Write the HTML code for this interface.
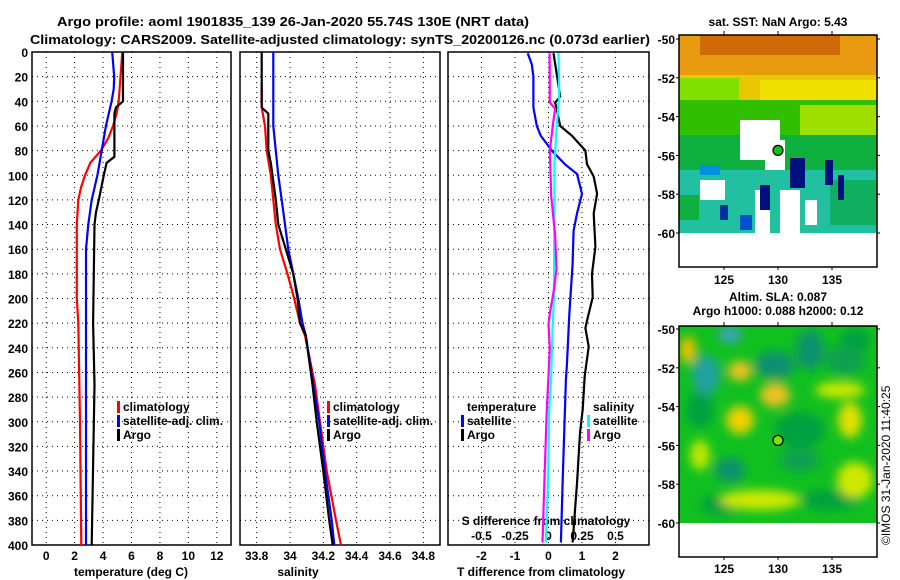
<!DOCTYPE html>
<html><head><meta charset="utf-8"><style>
body{margin:0;background:#fff}
svg{display:block;font-family:"Liberation Sans",sans-serif;font-weight:bold}
text{font-size:12px}
</style></head><body>
<svg id="c" width="900" height="580" viewBox="0 0 900 580">
<defs>
<filter id="bl" x="-50%" y="-50%" width="200%" height="200%"><feGaussianBlur stdDeviation="5"/></filter>
<clipPath id="m1"><rect x="679" y="35" width="198" height="198"/></clipPath>
<clipPath id="m2"><rect x="679" y="326" width="198" height="197"/></clipPath>
</defs>
<text x="57" y="26" textLength="472" lengthAdjust="spacingAndGlyphs" style="font-size:13px">Argo profile: aoml 1901835_139 26-Jan-2020 55.74S 130E (NRT data)</text>
<text x="30" y="44" textLength="620" lengthAdjust="spacingAndGlyphs" style="font-size:13px">Climatology: CARS2009. Satellite-adjusted climatology: synTS_20200126.nc (0.073d earlier)</text>
<text x="778" y="26" text-anchor="middle" style="font-size:12px">sat. SST: NaN Argo: 5.43</text>
<text x="778" y="301" text-anchor="middle">Altim. SLA: 0.087</text>
<text x="778" y="315" text-anchor="middle">Argo h1000: 0.088 h2000: 0.12</text>
<text transform="translate(890,545) rotate(-90)" style="font-weight:normal;font-size:12px">©IMOS 31-Jan-2020 11:40:25</text>

<g id="map1">
<rect x="679" y="35" width="198" height="232" fill="#fff"/>
<g clip-path="url(#m1)">
<rect x="679" y="35" width="198" height="198" fill="#10b070"/>
<rect x="679" y="35" width="198" height="45" fill="#e89a10"/>
<rect x="700" y="35" width="140" height="20" fill="#d06a08"/>
<rect x="679" y="75" width="198" height="30" fill="#e8c800"/>
<rect x="679" y="78" width="60" height="30" fill="#80e000"/>
<rect x="760" y="80" width="117" height="25" fill="#f0e000"/>
<rect x="679" y="100" width="198" height="40" fill="#30c000"/>
<rect x="800" y="105" width="77" height="40" fill="#a0e000"/>
<rect x="679" y="135" width="198" height="40" fill="#10b040"/>
<rect x="679" y="170" width="198" height="63" fill="#20c0a0"/>
<rect x="679" y="195" width="20" height="25" fill="#10b040"/>
<rect x="830" y="180" width="47" height="45" fill="#10b060"/>
<rect x="740" y="120" width="40" height="40" fill="#fff"/>
<rect x="700" y="180" width="25" height="20" fill="#fff"/>
<rect x="765" y="140" width="20" height="30" fill="#fff"/>
<rect x="755" y="190" width="15" height="43" fill="#fff"/>
<rect x="780" y="190" width="20" height="43" fill="#fff"/>
<rect x="805" y="200" width="12" height="25" fill="#fff"/>
<rect x="790" y="158" width="15" height="30" fill="#00107a"/>
<rect x="760" y="185" width="10" height="25" fill="#00107a"/>
<rect x="825" y="160" width="8" height="25" fill="#00107a"/>
<rect x="838" y="175" width="6" height="25" fill="#00107a"/>
<rect x="740" y="215" width="12" height="15" fill="#0050d0"/>
<rect x="720" y="205" width="8" height="15" fill="#0030a0"/>
<rect x="700" y="165" width="20" height="10" fill="#0090e0"/>
</g>
</g>
<g id="map2">
<rect x="679" y="326" width="198" height="231" fill="#fff"/>
<g clip-path="url(#m2)">
<rect x="679" y="326" width="198" height="197" fill="#10c020"/>
<g filter="url(#bl)">
<ellipse cx="800" cy="430" rx="25" ry="18" fill="#00a040"/>
<ellipse cx="700" cy="410" rx="14" ry="18" fill="#00a040"/>
<ellipse cx="830" cy="500" rx="30" ry="10" fill="#00a040"/>
<ellipse cx="720" cy="505" rx="20" ry="10" fill="#00a040"/>
<ellipse cx="855" cy="340" rx="15" ry="12" fill="#00a040"/>
<ellipse cx="706" cy="375" rx="14" ry="20" fill="#20a0a0"/>
<ellipse cx="730" cy="335" rx="12" ry="8" fill="#40a0c0"/>
<ellipse cx="688" cy="350" rx="8" ry="14" fill="#f0c000"/>
<ellipse cx="740" cy="371" rx="12" ry="10" fill="#f0c020"/>
<ellipse cx="775" cy="395" rx="15" ry="12" fill="#f0c020"/>
<ellipse cx="775" cy="365" rx="20" ry="14" fill="#109070"/>
<ellipse cx="810" cy="350" rx="14" ry="20" fill="#109070"/>
<ellipse cx="845" cy="360" rx="20" ry="15" fill="#10a050"/>
<ellipse cx="850" cy="420" rx="12" ry="18" fill="#e0e000"/>
<ellipse cx="740" cy="420" rx="14" ry="14" fill="#f0d000"/>
<ellipse cx="730" cy="470" rx="15" ry="12" fill="#109070"/>
<ellipse cx="760" cy="500" rx="40" ry="10" fill="#d0e800"/>
<ellipse cx="855" cy="480" rx="18" ry="18" fill="#d0e800"/>
<ellipse cx="800" cy="460" rx="20" ry="12" fill="#10a050"/>
<ellipse cx="700" cy="455" rx="10" ry="15" fill="#c0e800"/>
<ellipse cx="840" cy="390" rx="25" ry="8" fill="#d0e800"/>
</g>
</g>
</g>
<g id="axes"></g>
<g id="series"></g>
</svg>
<script>
// ---- data ----
const depthTicks=[0,20,40,60,80,100,120,140,160,180,200,220,240,260,280,300,320,340,360,380,400];
const tempTicks=[0,2,4,6,8,10,12];
const salTicks=[33.8,34,34.2,34.4,34.6,34.8];
const salTickLabels=["33.8","34","34.2","34.4","34.6","34.8"];
const tdiffTicks=[-2,-1,0,1,2];
const sdiffTicks=[-0.5,-0.25,0,0.25,0.5];
const sdiffTickLabels=["-0.5","-0.25","0","0.25","0.5"];
const latTicks=[-50,-52,-54,-56,-58,-60];
const lonTicks=[125,130,135];
const argoLon=130, argoLat=-55.74;

const argoTDepth=[0,40,45,50,85,90,100,120,130,140,220,270,400];
const argoT=[5.4,5.4,4.9,4.8,4.8,4.25,4.05,3.7,3.5,3.4,3.3,3.4,3.2];
const climTDepth=[0,40,50,60,70,80,90,100,110,120,140,200,220,300,400];
const climT=[5.35,5.1,4.95,4.7,4.36,3.85,3.1,2.73,2.45,2.26,2.15,2.15,2.26,2.38,2.47];
const satTDepth=[0,20,30,40,60,80,100,120,140,160,200,400];
const satT=[4.64,4.78,4.75,4.6,4.2,3.9,3.6,3.2,2.96,2.8,2.8,2.8];

const argoSDepth=[0,45,50,80,90,100,120,140,160,180,200,220,230,270,300,340,380,400];
const argoS=[33.83,33.83,33.87,33.87,33.885,33.895,33.915,33.93,33.975,34.02,34.045,34.06,34.095,34.135,34.16,34.2,34.235,34.256];
const climSDepth=[25,45,60,80,100,120,140,160,180,200,220,230,270,300,340,380,400];
const climS=[33.83,33.83,33.85,33.86,33.885,33.9,33.915,33.94,33.985,34.025,34.06,34.09,34.15,34.18,34.22,34.276,34.306];
const satSDepth=[0,60,80,100,120,140,160,180,200,220,230,270,300,340,380,400];
const satS=[33.9,33.9,33.915,33.93,33.95,33.97,33.99,34.02,34.05,34.075,34.095,34.14,34.175,34.21,34.25,34.266];

const dArgoTDepth=[1,36,41,60,68,80,91,101,115,131,158,180,199,218,224,239,263,290,309,350,398];
const dArgoT=[0.15,0.35,0.2,0.35,0.7,1.1,1.15,1.35,1.45,1.35,1.4,1.3,1.32,1.15,1.1,1.2,1.08,1.02,0.94,0.85,0.72];
const dSatTDepth=[1,10,20,45,60,68,80,91,99,115,131,145,172,213,254,266,309,350,398];
const dSatT=[-0.62,-0.5,-0.45,-0.45,-0.35,-0.23,0.1,0.49,0.85,1.0,0.85,0.75,0.72,0.62,0.55,0.52,0.47,0.42,0.37];
const dArgoSDepth=[1,41,46,57,80,117,149,176,193,212,221,240,263,290,346,398];
const dArgoS=[0.008,0.01,0.05,0.035,0.01,0.02,0.05,0.06,0.04,0.01,0,0.01,0,-0.013,-0.03,-0.045];
const dSatSDepth=[1,36,62,91,145,199,226,263,290,346,398];
const dSatS=[0.075,0.08,0.06,0.045,0.043,0.04,0.03,0.02,0.005,-0.003,-0.02];

// ---- scales ----
const Y0=52,Y1=545;
const yD=d=>Y0+(d/400)*(Y1-Y0);
const P1={l:32,r:231,min:-1,max:13};
const P2={l:240,r:440,min:33.7,max:34.9};
const P3={l:448,r:649,min:-3,max:3};
const P3S={l:448,r:649,min:-0.75,max:0.75};
const sx=(p,v)=>p.l+(v-p.min)/(p.max-p.min)*(p.r-p.l);
const lonX=lon=>778+(lon-130)*10.8;
const lat1=lat=>39+(-50-lat)*19.4;
const lat2=lat=>329+(-50-lat)*19.4;

const NS='http://www.w3.org/2000/svg';
const axes=document.getElementById('axes'), series=document.getElementById('series');
function mk(tag,attrs,parent,txt){const e=document.createElementNS(NS,tag);for(const k in attrs)e.setAttribute(k,attrs[k]);if(txt!==undefined)e.textContent=txt;parent.appendChild(e);return e;}

function panel(p,name,xt,xl,labelY){
  const g=mk('g',{},axes);
  
  
  xt.forEach((v,i)=>{const x=sx(p,v);
    const gl=mk('line',{x1:x,x2:x,y1:Y0,y2:Y1,stroke:'#000','stroke-width':1,'stroke-dasharray':'1,4'},g);
    
    
    if(xl){const t=mk('text',{x:x,y:labelY,'text-anchor':'middle'},g,xl[i]);
      
      }
  });
  depthTicks.forEach(d=>{const y=yD(d);
    const gl=mk('line',{x1:p.l,x2:p.r,y1:y,y2:y,stroke:'#000','stroke-width':1,'stroke-dasharray':'1,4'},g);
    
    });
  const fr=mk('rect',{x:p.l,y:Y0,width:p.r-p.l,height:Y1-Y0,fill:'none',stroke:'#000','stroke-width':1.5},g);
  
  
}
panel(P1,'temperature-panel',tempTicks,tempTicks.map(String),560);
panel(P2,'salinity-panel',salTicks,salTickLabels,560);
panel(P3,'difference-panel',tdiffTicks,tdiffTicks.map(String),560);
depthTicks.forEach(d=>{const t=mk('text',{x:28,y:yD(d)+5,'text-anchor':'end'},axes,String(d));
  
  });
sdiffTicks.forEach((v,i)=>{const t=mk('text',{x:sx(P3S,v),y:540,'text-anchor':'middle'},axes,sdiffTickLabels[i]);
  
  });
[['x-axis-title-temperature',131,'temperature (deg C)'],['x-axis-title-salinity',298,'salinity'],['x-axis-title-tdiff',541,'T difference from climatology'],['x-axis-title-sdiff',546,'S difference from climatology']].forEach((a,i)=>{
  const t=mk('text',{x:a[1],y:i==3?525:576,'text-anchor':'middle'},axes,a[2]);
  
  });

function line(p,dep,val,color,name){
  const pts=dep.map((d,i)=>sx(p,val[i]).toFixed(1)+','+yD(d).toFixed(1)).join(' ');
  const e=mk('polyline',{points:pts,fill:'none',stroke:color,'stroke-width':2.2},series);
  
  
}
line(P1,climTDepth,climT,'#ff0000','temp-climatology-line');
line(P1,satTDepth,satT,'#0000ff','temp-satellite-line');
line(P1,argoTDepth,argoT,'#000','temp-argo-line');
line(P2,climSDepth,climS,'#ff0000','sal-climatology-line');
line(P2,satSDepth,satS,'#0000ff','sal-satellite-line');
line(P2,argoSDepth,argoS,'#000','sal-argo-line');
line(P3,dSatTDepth,dSatT,'#0000ff','tdiff-satellite-line');
line(P3,dArgoTDepth,dArgoT,'#000','tdiff-argo-line');
line(P3S,dSatSDepth,dSatS,'#00ffff','sdiff-satellite-line');
line(P3S,dArgoSDepth,dArgoS,'#ff00ff','sdiff-argo-line');

function legend(x,y,items,name){
  const g=mk('g',{},series);
  
  
  items.forEach((it,i)=>{const yy=y+i*14;
    if(it[1]) mk('rect',{x:x,y:yy-10,width:3,height:12,fill:it[1]},g);
    const t=mk('text',{x:x+6,y:yy},g,it[0]);
    
    });
}
legend(117,411,[['climatology','#ff0000'],['satellite-adj. clim.','#0000ff'],['Argo','#000']],'temp-legend');
legend(327,411,[['climatology','#ff0000'],['satellite-adj. clim.','#0000ff'],['Argo','#000']],'sal-legend');
legend(461,411,[['temperature',null],['satellite','#0000ff'],['Argo','#000']],'tdiff-legend');
legend(587,411,[['salinity',null],['satellite','#00ffff'],['Argo','#ff00ff']],'sdiff-legend');

function mapAxes(latF,top,bot,name,lonLabelY){
  const g=mk('g',{},axes);
  
  
  mk('rect',{x:679,y:top,width:198,height:bot-top,fill:'none',stroke:'#000','stroke-width':1.5},g);
  latTicks.forEach(l=>{const y=latF(l);
    mk('line',{x1:679,x2:676,y1:y,y2:y,stroke:'#000'},g);
    mk('line',{x1:877,x2:880,y1:y,y2:y,stroke:'#000'},g);
    const t=mk('text',{x:675,y:y+5,'text-anchor':'end'},g,String(l));
    
    });
  lonTicks.forEach(l=>{const x=lonX(l);
    mk('line',{x1:x,x2:x,y1:top,y2:top-4,stroke:'#000'},g);
    mk('line',{x1:x,x2:x,y1:bot,y2:bot+3,stroke:'#000'},g);
    const t=mk('text',{x:x,y:lonLabelY,'text-anchor':'middle'},g,String(l));
    
    });
}
mapAxes(lat1,35,267,'sst-map-axes',284);
mapAxes(lat2,326,557,'sla-map-axes',573);
const m1=mk('circle',{cx:lonX(argoLon),cy:lat1(argoLat),r:5,fill:'#10c010',stroke:'#000','stroke-width':1.2},series);


const m2=mk('circle',{cx:lonX(argoLon),cy:lat2(argoLat),r:5,fill:'#80e000',stroke:'#000','stroke-width':1.2},series);


</script>
</body></html>
